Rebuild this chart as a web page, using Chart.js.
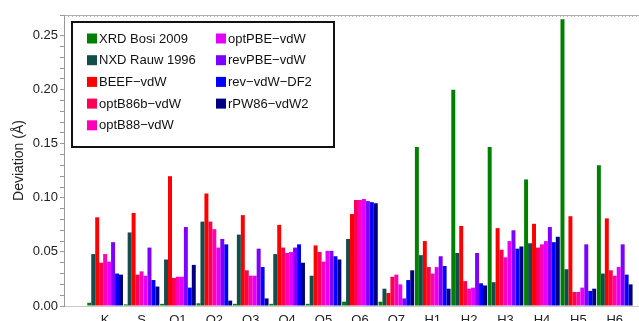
<!DOCTYPE html>
<html>
<head>
<meta charset="utf-8">
<script src="https://cdn.jsdelivr.net/npm/chart.js@4/dist/chart.umd.min.js"></script>
<style>
  html, body { margin: 0; padding: 0; background: #fff; overflow: hidden; }
  #wrap { width: 639px; height: 321px; overflow: hidden; position: relative; }
  canvas { display: block; }
</style>
</head>
<body>
<div id="wrap"><canvas id="c" width="700" height="340"></canvas></div>
<script>
// Structural deviations per site, for each reference and functional
const categories = ['K', 'S', 'O1', 'O2', 'O3', 'O4', 'O5', 'O6', 'O7', 'H1', 'H2', 'H3', 'H4', 'H5', 'H6'];

const xrdBosi2009 = [0.003, 0.0015, 0.002, 0.0025, 0.002, 0.002, 0.002, 0.004, 0.004, 0.147, 0.200, 0.147, 0.117, 0.265, 0.130];
const nxdRauw1996 = [0.048, 0.068, 0.043, 0.078, 0.066, 0.048, 0.028, 0.062, 0.016, 0.047, 0.049, 0.022, 0.058, 0.034, 0.030];
const beefVdW     = [0.082, 0.086, 0.120, 0.104, 0.084, 0.075, 0.056, 0.085, 0.012, 0.060, 0.074, 0.072, 0.076, 0.083, 0.081];
const optB86bVdW  = [0.040, 0.029, 0.026, 0.078, 0.033, 0.054, 0.050, 0.098, 0.027, 0.036, 0.023, 0.052, 0.054, 0.013, 0.033];
const optB88VdW   = [0.048, 0.032, 0.027, 0.071, 0.028, 0.049, 0.041, 0.098, 0.029, 0.030, 0.016, 0.045, 0.057, 0.013, 0.028];
const optPBEVdW   = [0.041, 0.028, 0.027, 0.054, 0.028, 0.050, 0.051, 0.099, 0.020, 0.036, 0.017, 0.060, 0.060, 0.017, 0.036];
const revPBEVdW   = [0.059, 0.054, 0.073, 0.062, 0.053, 0.054, 0.051, 0.097, 0.007, 0.046, 0.049, 0.070, 0.073, 0.057, 0.057];
const revVdWDF2   = [0.030, 0.024, 0.017, 0.057, 0.036, 0.057, 0.046, 0.096, 0.024, 0.037, 0.021, 0.053, 0.059, 0.014, 0.029];
const rPW86VdW2   = [0.029, 0.018, 0.038, 0.005, 0.007, 0.040, 0.043, 0.095, 0.033, 0.016, 0.019, 0.055, 0.064, 0.016, 0.020];

const seriesNames = ['XRD Bosi 2009', 'NXD Rauw 1996', 'BEEF\u2212vdW', 'optB86b\u2212vdW', 'optB88\u2212vdW',
                     'optPBE\u2212vdW', 'revPBE\u2212vdW', 'rev\u2212vdW\u2212DF2', 'rPW86\u2212vdW2'];
const seriesValues = [xrdBosi2009, nxdRauw1996, beefVdW, optB86bVdW, optB88VdW, optPBEVdW, revPBEVdW, revVdWDF2, rPW86VdW2];
const seriesColors = ['#008000', '#124f4c', '#ff0000', '#ff0055', '#ff00bb', '#e400ff', '#7f00ff', '#0000ff', '#000080'];

const yTickValues = [0, 0.05, 0.10, 0.15, 0.20, 0.25];

const FONT = '"Liberation Sans", Arial, Helvetica, sans-serif';

// Boxed two-column legend inside the plot
const boxLegend = {
  id: 'boxLegend',
  afterDraw(chart) {
    const ctx = chart.ctx;
    const x0 = 72, y0 = 22, w = 262, h = 125;
    ctx.save();
    ctx.fillStyle = '#fff';
    ctx.fillRect(x0, y0, w, h);
    ctx.lineWidth = 2;
    ctx.strokeStyle = '#111';
    ctx.strokeRect(x0, y0, w, h);
    ctx.font = '13px ' + FONT;
    ctx.textBaseline = 'middle';
    chart.data.datasets.forEach((ds, i) => {
      const col = i < 5 ? 0 : 1;
      const row = i < 5 ? i : i - 5;
      const sx = col === 0 ? 87 : 216;
      const cy = 38.5 + row * 21.7;
      ctx.fillStyle = ds.backgroundColor;
      ctx.fillRect(sx, cy - 5, 10, 10);
      ctx.fillStyle = '#111';
      ctx.fillText(ds.label, sx + 12, cy + 0.5);
    });
    ctx.restore();
  }
};

const isMajor = v => yTickValues.some(t => Math.abs(t - v) < 1e-9);

new Chart(document.getElementById('c'), {
  type: 'bar',
  data: {
    datasets: seriesValues.map((vals, i) => ({
      label: seriesNames[i],
      data: vals.map((v, j) => ({ x: j, y: v })),
      backgroundColor: seriesColors[i],
      borderWidth: 0,
      barPercentage: 1.0,
      categoryPercentage: 0.98,
      xAxisID: 'x'
    }))
  },
  options: {
    responsive: false,
    animation: false,
    layout: { padding: { left: 0, top: 15, right: 0, bottom: 0 } },
    plugins: { legend: { display: false }, tooltip: { enabled: false } },
    scales: {
      x: {
        type: 'linear',
        position: 'bottom',
        offset: false,
        min: -1.13,
        max: 16.15,
        afterFit(s) { s.height = 34; },
        grid: { display: false, drawTicks: false, offset: false },
        border: { display: true, color: '#c8c8c8', width: 1 },
        ticks: {
          stepSize: 1,
          autoSkip: false,
          maxRotation: 0,
          padding: 7,
          color: '#222',
          font: { family: FONT, size: 13 },
          callback: v => (Number.isInteger(v) && categories[v] !== undefined) ? categories[v] : ''
        }
      },
      xTop: {
        type: 'linear',
        position: 'top',
        offset: false,
        min: -1.13,
        max: 16.15,
        afterFit(s) { s.height = 0; },
        grid: { drawOnChartArea: false, drawTicks: true, tickLength: -2, color: '#b8b8b8', offset: false },
        border: { display: true, color: '#b0b0b0', width: 1 },
        ticks: { display: false, stepSize: 0.1 }
      },
      y: {
        min: 0,
        max: 0.269,
        afterFit(s) { s.width = 64; },
        grid: { drawOnChartArea: false, drawTicks: true, tickLength: 4, color: '#999' },
        border: { display: true, color: '#999', width: 1 },
        title: {
          display: true,
          text: 'Deviation (\u00c5)',
          color: '#222',
          font: { family: FONT, size: 14 },
          padding: { top: 11, bottom: 0 }
        },
        ticks: {
          stepSize: 0.01,
          autoSkip: false,
          padding: 2,
          color: '#222',
          font: { family: FONT, size: 13 },
          callback: v => isMajor(v) ? v.toFixed(2) : ''
        }
      }
    }
  },
  plugins: [boxLegend]
});
</script>
</body>
</html>
